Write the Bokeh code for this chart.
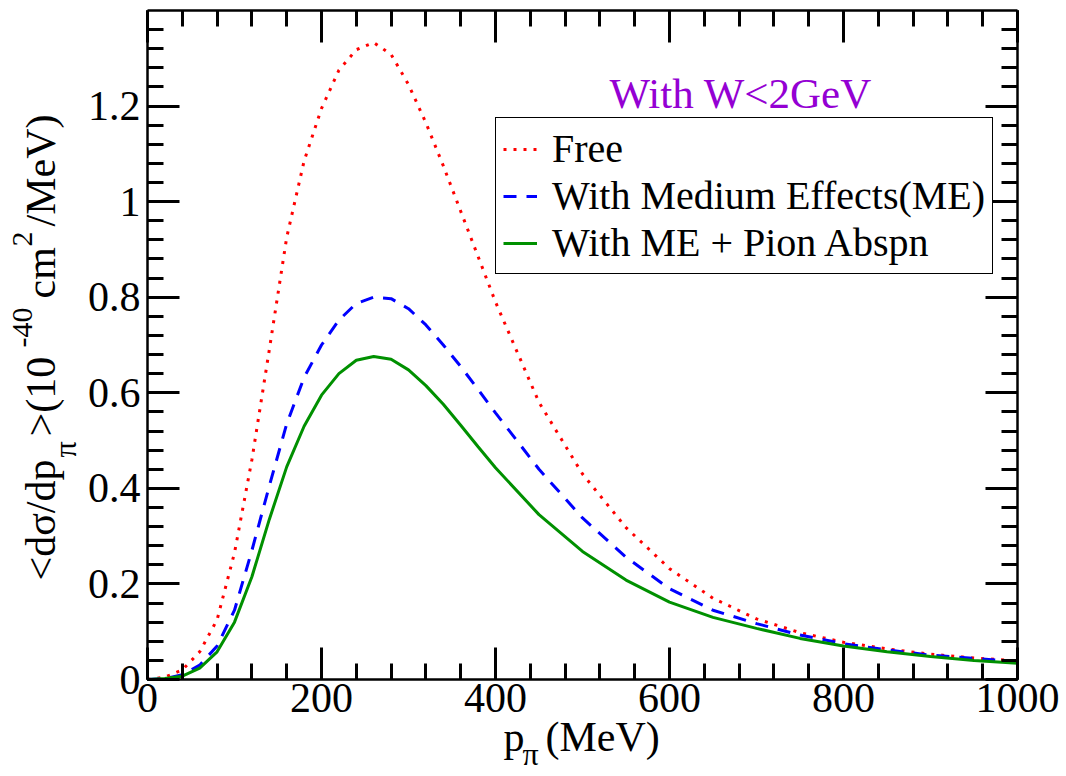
import math
from bokeh.plotting import figure
from bokeh.models import (LinearAxis, SingleIntervalTicker, CustomJSTickFormatter,
                          Legend, LegendItem, Label, Range1d)
from bokeh.embed import file_html
from bokeh.resources import INLINE

# ---- data ----
p_pi = [0, 20, 40, 60, 80, 100, 120, 140, 160, 180, 200, 220, 240, 260, 280, 300,
        320, 340, 360, 380, 400, 450, 500, 550, 600, 650, 700, 750, 800, 850, 900, 950, 1000]
free = [0.0, 0.005, 0.02, 0.058, 0.125, 0.265, 0.46, 0.69, 0.925, 1.085, 1.195, 1.275,
        1.318, 1.333, 1.308, 1.245, 1.165, 1.075, 0.98, 0.885, 0.79, 0.58, 0.43, 0.318,
        0.232, 0.17, 0.127, 0.098, 0.078, 0.064, 0.053, 0.045, 0.039]
medium = [0.0, 0.002, 0.01, 0.03, 0.07, 0.145, 0.27, 0.405, 0.535, 0.632, 0.70, 0.752,
          0.787, 0.80, 0.797, 0.776, 0.742, 0.70, 0.655, 0.607, 0.558, 0.44, 0.338, 0.256,
          0.19, 0.145, 0.117, 0.093, 0.075, 0.062, 0.051, 0.044, 0.038]
absorption = [0.0, 0.002, 0.007, 0.024, 0.058, 0.12, 0.215, 0.335, 0.445, 0.53, 0.595, 0.64,
              0.668, 0.676, 0.67, 0.648, 0.615, 0.576, 0.532, 0.487, 0.443, 0.345, 0.268,
              0.208, 0.162, 0.13, 0.107, 0.086, 0.07, 0.058, 0.048, 0.04, 0.034]
series_labels = ["Free", "With Medium Effects(ME)", "With ME + Pion Abspn"]
note_text = "With W<2GeV"

X_MAX, Y_MAX = 1000, 1.4
W, H = 1066, 776
FL, FR, FT, FB = 147, 1017, 10, 679   # plot-box edges in pixels

XPP = X_MAX / (FR - FL)   # data units per pixel
YPP = Y_MAX / (FB - FT)

FONT = "Liberation Serif"

# the frame covers the whole canvas; the axes sit at fixed data positions
p = figure(width=W, height=H,
           x_range=Range1d(-FL * XPP, X_MAX + (W - FR) * XPP),
           y_range=Range1d(-(H - FB) * YPP, Y_MAX + FT * YPP),
           x_axis_type=None, y_axis_type=None,
           output_backend="svg", toolbar_location=None,
           min_border=0)
p.grid.visible = False
p.outline_line_color = None
p.background_fill_color = "white"
p.border_fill_color = "white"

xt = SingleIntervalTicker(interval=200, num_minor_ticks=5)
yt = SingleIntervalTicker(interval=0.2, num_minor_ticks=5)
blank = CustomJSTickFormatter(code="return '';")

bottom = LinearAxis(ticker=xt, fixed_location=0, bounds=(0, X_MAX))
left = LinearAxis(ticker=yt, fixed_location=0, bounds=(0, Y_MAX),
                  formatter=CustomJSTickFormatter(
                      code="return tick > 1.3 ? '' : Number(tick.toFixed(2)).toString();"))
top = LinearAxis(ticker=xt, fixed_location=Y_MAX, bounds=(0, X_MAX), formatter=blank)
right = LinearAxis(ticker=yt, fixed_location=X_MAX, bounds=(0, Y_MAX), formatter=blank)
p.add_layout(bottom, "below")
p.add_layout(left, "left")
p.add_layout(top, "above")
p.add_layout(right, "right")

for ax in [bottom, left, top, right]:
    ax.axis_line_width = 2.5
    ax.axis_line_color = "black"
    ax.major_tick_in = 32
    ax.major_tick_out = 0
    ax.minor_tick_in = 16
    ax.minor_tick_out = 0
    ax.major_tick_line_width = 3
    ax.minor_tick_line_width = 3
    ax.major_tick_line_color = "black"
    ax.minor_tick_line_color = "black"
    ax.major_label_text_font = FONT
    ax.major_label_text_color = "black"
for ax in [bottom, left]:
    ax.major_label_text_font_size = "42px"
bottom.major_label_standoff = 4
left.major_label_standoff = 7
for ax in [top, right]:
    ax.major_label_text_font_size = "1px"
    ax.major_label_standoff = 0

r_free = p.line(p_pi, free, line_color="#ff0000", line_width=3, line_dash="3 7")
r_med = p.line(p_pi, medium, line_color="#0000ff", line_width=3, line_dash="13 10")
r_abs = p.line(p_pi, absorption, line_color="#009000", line_width=3)

legend = Legend(items=[LegendItem(label=series_labels[0], renderers=[r_free]),
                       LegendItem(label=series_labels[1], renderers=[r_med]),
                       LegendItem(label=series_labels[2], renderers=[r_abs])],
                location=(495, H - 274),
                label_text_font=FONT, label_text_font_size="40px",
                label_text_color="black",
                glyph_width=34, glyph_height=20, label_height=20, label_standoff=15,
                padding=7, spacing=0, margin=0,
                border_line_color="black", border_line_width=1.5, border_line_alpha=1.0,
                background_fill_color="white", background_fill_alpha=1.0)
p.add_layout(legend, "center")


def at(px, py):
    return dict(x=(px - FL) * XPP, y=(FB - py) * YPP)


def label(text, px, py, size, angle=0.0, color="black"):
    # Bokeh's alphabetic anchor sits ~0.4 em above the drawn baseline; compensate
    fs = float(size.replace("px", ""))
    shift = 0.4 * fs
    if angle:
        px -= shift
    else:
        py -= shift
    p.add_layout(Label(text=text, angle=angle, text_font=FONT, text_font_size=size,
                       text_color=color, text_align="left", text_baseline="alphabetic",
                       **at(px, py)))


label(note_text, 609, 110, "43px", color="#9400d3")

# x axis title: p_pi(MeV)
label("p", 503, 753, "42px")
label("π", 522, 766, "32px")
label("(MeV)", 545, 753, "42px")

# y axis title: <dσ/dp_π>(10^-40 cm^2/MeV)
ang = math.pi / 2
label("<dσ/dp", 57, 580, "42px", angle=ang)
label("π", 77, 457, "32px", angle=ang)
label(">(10", 57, 436, "42px", angle=ang)
label("-40", 34, 347, "30px", angle=ang)
label("cm", 57, 298, "42px", angle=ang)
label("2", 34, 246, "30px", angle=ang)
label("/MeV)", 57, 226, "42px", angle=ang)

open("out.html", "w").write(file_html(p, INLINE))
